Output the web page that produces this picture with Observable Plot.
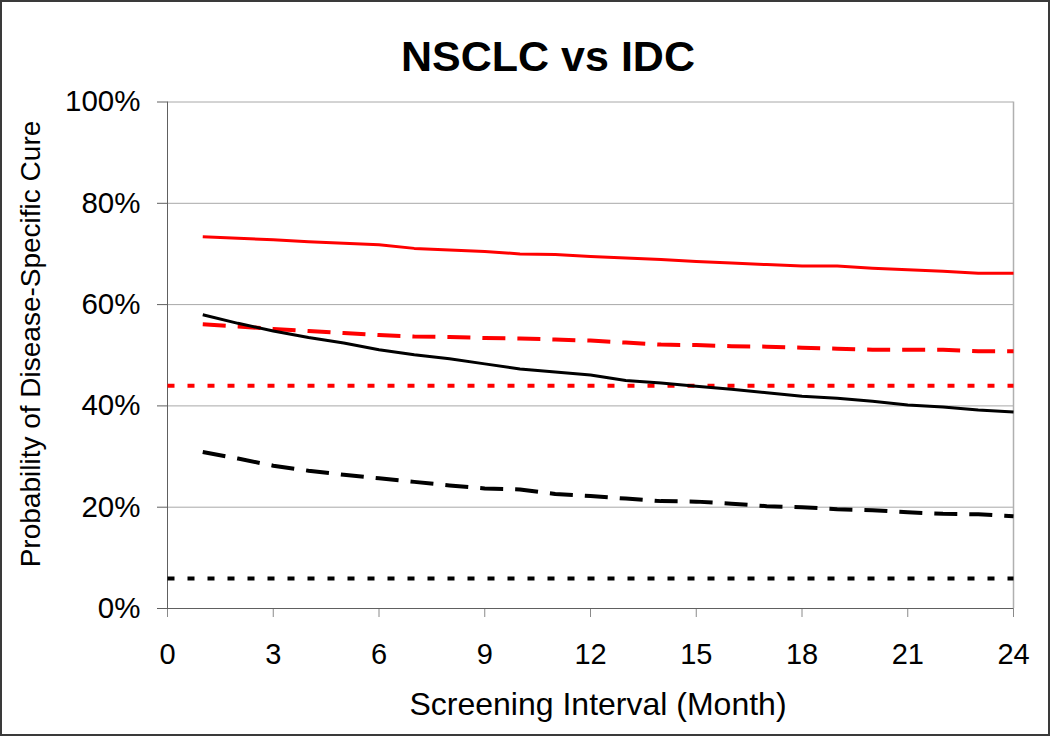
<!DOCTYPE html>
<html>
<head>
<meta charset="utf-8">
<script src="https://cdn.jsdelivr.net/npm/d3@7"></script>
<script src="https://cdn.jsdelivr.net/npm/@observablehq/plot@0.6"></script>
<style>
  body { margin: 0; background: #fff; }
  #wrap { position: relative; width: 1050px; height: 736px; background: #fff; overflow: hidden;
          font-family: "Liberation Sans", Arial, sans-serif; color: #000; }
  #wrap svg { position: absolute; left: 0; top: 0; }
  #border { position: absolute; left: 0; top: 0; width: 1050px; height: 736px; box-sizing: border-box;
            border: 2px solid #3a3a3a; pointer-events: none; }
  .lbl { position: absolute; white-space: nowrap; transform: translate(-50%, -50%); }
  #title { left: 548px; top: 56px; font-size: 43px; line-height: 43px; font-weight: bold; }
  #xlabel { left: 598px; top: 704px; font-size: 32px; line-height: 32px; }
  #ylabel { left: 31px; top: 344px; font-size: 28px; line-height: 28px; transform: translate(-50%, -50%) rotate(-90deg); }
</style>
</head>
<body>
<div id="wrap">
  <div id="chart"></div>
  <div class="lbl" id="title">NSCLC vs IDC</div>
  <div class="lbl" id="xlabel">Screening Interval (Month)</div>
  <div class="lbl" id="ylabel">Probability of Disease-Specific Cure</div>
  <div id="border"></div>
</div>
<script>
// ---- data (percent) ----
const months = [1,2,3,4,5,6,7,8,9,10,11,12,13,14,15,16,17,18,19,20,21,22,23,24];
const idcSolid    = [73.4,73.1,72.8,72.4,72.1,71.8,71.1,70.8,70.5,70.0,69.9,69.5,69.2,68.9,68.5,68.2,67.9,67.6,67.6,67.2,66.9,66.6,66.2,66.2];
const idcDashed   = [56.1,55.7,55.2,54.8,54.4,54.0,53.7,53.6,53.4,53.3,53.1,52.9,52.5,52.1,52.0,51.8,51.7,51.5,51.3,51.1,51.1,51.1,50.8,50.8];
const nsclcSolid  = [58.0,56.3,54.8,53.5,52.4,51.1,50.1,49.3,48.3,47.3,46.7,46.1,45.0,44.5,43.9,43.3,42.6,41.9,41.5,40.9,40.2,39.8,39.2,38.8];
const nsclcDashed = [30.9,29.6,28.2,27.2,26.4,25.7,25.0,24.3,23.7,23.5,22.6,22.2,21.7,21.2,21.1,20.7,20.2,20.0,19.6,19.4,19.0,18.7,18.6,18.2];
const baselineMonths = [0, 24];
const idcDotted   = [44.0, 44.0];
const nsclcDotted = [5.9, 5.9];
const xTicks = [0,3,6,9,12,15,18,21,24];
const yTicks = [0,20,40,60,80,100];

const toRows = (xs, ys) => xs.map((x, i) => ({x, y: ys[i]}));

const series = [
  {rows: toRows(months, idcSolid),    stroke: "#ff0000", strokeWidth: 3, dash: null},
  {rows: toRows(months, idcDashed),   stroke: "#ff0000", strokeWidth: 4, dash: "23,12"},
  {rows: toRows(baselineMonths, idcDotted), stroke: "#ff0000", strokeWidth: 4, dash: "7,13"},
  {rows: toRows(months, nsclcSolid),  stroke: "#000000", strokeWidth: 3, dash: null},
  {rows: toRows(months, nsclcDashed), stroke: "#000000", strokeWidth: 4, dash: "23,12"},
  {rows: toRows(baselineMonths, nsclcDotted), stroke: "#000000", strokeWidth: 4, dash: "7,13"}
];

const chart = Plot.plot({
  width: 1050,
  height: 736,
  marginLeft: 167,
  marginRight: 37,
  marginTop: 101.5,
  marginBottom: 128,
  style: {fontFamily: "'Liberation Sans', Arial, sans-serif", fontSize: "29px", color: "#000", background: "transparent", overflow: "visible"},
  x: {domain: [0, 24]},
  y: {domain: [0, 100]},
  marks: [
    Plot.gridY(yTicks.filter(d => d > 0), {stroke: "#a8a8a8", strokeOpacity: 1, strokeWidth: 1}),
    Plot.ruleX([24], {stroke: "#b0b0b0", strokeWidth: 1.5}),
    Plot.axisY({ticks: yTicks, tickFormat: d => d + "%", tickSize: 10, tickPadding: 17, stroke: "#606060", label: null, fontSize: 29.5}),
    Plot.axisX({ticks: xTicks, tickFormat: d => String(d), tickSize: 9, tickPadding: 26, stroke: "#8a8a8a", label: null, fontSize: 29}),
    Plot.ruleX([0], {stroke: "#606060", strokeWidth: 1}),
    Plot.ruleY([0], {stroke: "#606060", strokeWidth: 1}),
    ...series.map(s => Plot.line(s.rows, {
      x: "x", y: "y", stroke: s.stroke, strokeWidth: s.strokeWidth,
      strokeDasharray: s.dash, strokeLinejoin: "round", strokeLinecap: "butt"
    }))
  ]
});
document.getElementById("chart").appendChild(chart);
</script>
</body>
</html>
